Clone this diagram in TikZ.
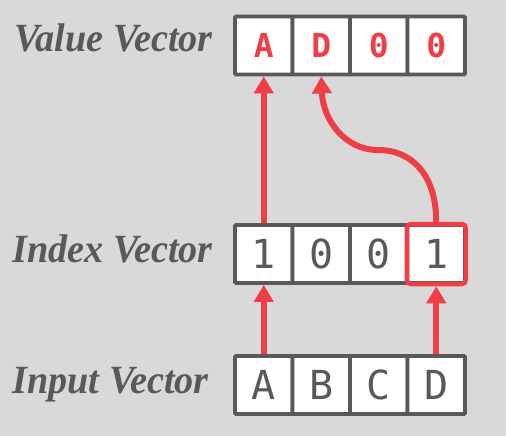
\documentclass[tikz,border=0pt]{standalone}
\usepackage{fontspec}
\setmainfont{Liberation Serif}
\newfontfamily\cellfont{DejaVu Sans Mono}
\usetikzlibrary{arrows.meta}
\definecolor{bg}{RGB}{217,217,217}
\definecolor{ink}{RGB}{89,89,89}
\definecolor{hl}{RGB}{239,62,71}
\newcommand{\lbltext}[1]{\scalebox{0.955}[1]{#1}}
\tikzset{
  cell/.style={draw=ink, line width=3.8pt, fill=white, minimum width=57.5pt, minimum height=58pt, inner sep=0pt, rounded corners=1pt, font=\cellfont\fontsize{40}{40}\selectfont, text=ink},
  vcell/.style={cell, font=\cellfont\bfseries\fontsize{33}{33}\selectfont, text=hl},
  lbl/.style={text=ink, font=\bfseries\itshape\fontsize{40}{40}\selectfont, inner sep=0pt},
  flow/.style={draw=hl, line width=6pt, -{Triangle[width=19pt,length=17pt]}},
}
\begin{document}
\begin{tikzpicture}[x=1pt,y=-1pt]
\fill[bg] (0,0) rectangle (506,436);
\useasboundingbox (0,0) rectangle (506,436);
% value vector
\node[vcell] (v1) at (263.75,45.5) {A};
\node[vcell] (v2) at (321.25,45.5) {D};
\node[vcell] (v3) at (378.75,45.5) {0};
\node[vcell] (v4) at (436.25,45.5) {0};
% index vector
\node[cell] (i1) at (263.75,254) {1};
\node[cell] (i2) at (321.25,254) {0};
\node[cell] (i3) at (378.75,254) {0};
\node[cell] (i4) at (436.25,254) {1};
% input vector
\node[cell] (n1) at (263.75,385) {A};
\node[cell] (n2) at (321.25,385) {B};
\node[cell] (n3) at (378.75,385) {C};
\node[cell] (n4) at (436.25,385) {D};
% highlight
\node[draw=hl, line width=4.5pt, rounded corners=4pt, minimum width=59pt, minimum height=60pt, inner sep=0pt] (hb) at (i4) {};
% labels
\node[lbl, anchor=base east] (lv) at (213,52) {\lbltext{Value Vector}};
\node[lbl, anchor=base east] (li) at (213,262) {\lbltext{Index Vector}};
\node[lbl, anchor=base east] (ln) at (209,393) {\lbltext{Input Vector}};
% arrows
\draw[flow] (n1.north) -- (i1.south);
\draw[flow] (n4.north) -- (hb.south);
\draw[flow] (i1.north) -- (v1.south);
\coordinate (bend) at (378,150);
\draw[flow] (hb.north) .. controls (436.25,175) and (412,150) .. (bend) .. controls (345,150) and (323,120) .. (v2.south);
\end{tikzpicture}
\end{document}
